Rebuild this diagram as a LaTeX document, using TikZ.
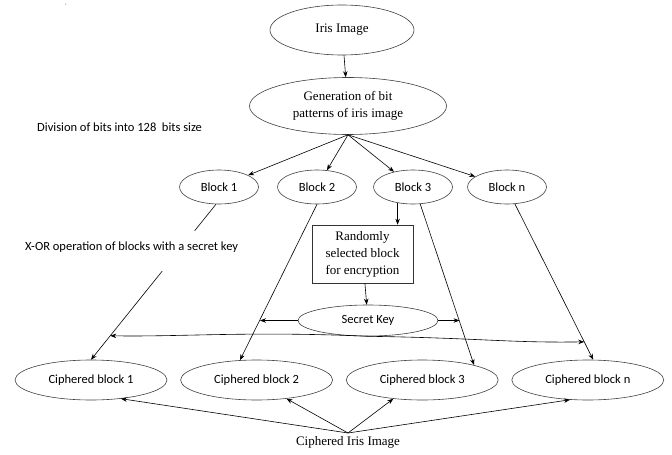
\documentclass[tikz,border=0pt]{standalone}
\usepackage{fontspec}
\setmainfont{Liberation Serif}
\newfontfamily\calibri{Carlito}
\usetikzlibrary{shapes.geometric, arrows.meta, positioning, calc}

\begin{document}
\begin{tikzpicture}[
    x=1pt, y=-1pt,
    node distance=13pt,
    oval/.style={ellipse, draw=black!75, line width=0.6pt, inner sep=0pt, align=center},
    rect/.style={rectangle, draw=black!80, line width=0.6pt, align=center, inner sep=2pt},
    serif/.style={font=\fontsize{13}{17}\selectfont},
    sans/.style={font=\calibri\fontsize{12.5}{15}\selectfont},
    arrow/.style={-{Stealth[length=6pt, width=4.5pt]}, line width=0.6pt},
    line/.style={line width=0.6pt}
]
    \useasboundingbox (0,0) rectangle (672,455);

    % Top part
    \node[font=\tiny, inner sep=0pt] (tick) at (66,6) {'};
    \node[oval, serif, minimum width=144pt, minimum height=50pt] (iris) at (342,30) {Iris Image};
    \node[oval, serif, minimum width=197pt, minimum height=57pt] (gen) at (348,106) {Generation of bit\\patterns of iris image};
    \node[sans, anchor=west, inner sep=0pt] (div) at (37,127) {Division of bits into 128\ \ bits size};

    % Blocks
    \node[oval, sans, minimum width=79pt, minimum height=34pt] (b1) at (219,187) {Block 1};
    \node[oval, sans, minimum width=79pt, minimum height=34pt] (b2) at (317,187) {Block 2};
    \node[oval, sans, minimum width=79pt, minimum height=34pt] (b3) at (413,187) {Block 3};
    \node[oval, sans, minimum width=79pt, minimum height=34pt] (bn) at (507,187) {Block n};

    \node[sans, anchor=west, inner sep=0pt] (xor) at (25,247) {X-OR operation of blocks with a secret key};
    \node[rect, serif, minimum width=101pt, minimum height=58pt] (rand) at (362.5,254) {Randomly\\selected block\\for encryption};
    \node[oval, sans, minimum width=140pt, minimum height=31pt] (sk) at (368,320.5) {Secret Key};

    % Ciphered blocks
    \node[oval, sans, minimum width=152pt, minimum height=40pt] (cb1) at (91,380) {Ciphered block 1};
    \node[oval, sans, minimum width=152pt, minimum height=40pt, right=13pt of cb1] (cb2) {Ciphered block 2};
    \node[oval, sans, minimum width=152pt, minimum height=40pt, right=13pt of cb2] (cb3) {Ciphered block 3};
    \node[oval, sans, minimum width=152pt, minimum height=40pt, right=13pt of cb3] (cbn) {Ciphered block n};
    \node[serif, anchor=north, inner sep=3.5pt] (cii) at (348,433) {Ciphered Iris Image};

    % Points on the block lines
    \coordinate (x1a) at ($(b1.260)!0.17!(cb1.north)$);
    \coordinate (x1b) at ($(b1.260)!0.43!(cb1.north)$);
    \coordinate (k1) at ($(b1.260)!0.846!(cb1.north)$);
    \coordinate (k2) at ($(b2.south)!0.74!(cb2.130)$);
    \coordinate (k3) at ($(b3.293)!0.73!(cb3.16)$);
    \coordinate (kn) at ($(bn.295)!0.885!(cbn.75)$);

    % Arrows
    \draw[arrow] (iris) -- (gen);
    \draw[arrow] (gen.south) -- (b1);
    \draw[arrow] (gen.south) -- (b2);
    \draw[arrow] (gen.south) -- (b3);
    \draw[arrow] (gen.south) -- (bn);

    \draw[line] (b1.260) -- (x1a);
    \draw[arrow] (x1b) -- (cb1.north);
    \draw[arrow] (b2.south) -- (cb2.130);
    \draw[arrow] (b3.293) -- (cb3.16);
    \draw[arrow] (bn.295) -- (cbn.75);

    \draw[arrow] (b3.226) -- (b3.226 |- rand.north);
    \draw[arrow] (rand) -- (sk);
    \draw[arrow] (sk.west) -- (sk.west -| k2);
    \draw[arrow] (sk.east) -- (sk.east -| k3);
    \draw[arrow] (sk.south) .. controls (250,331) and (180,337) .. (k1);
    \draw[arrow] (sk.south) .. controls (480,338) and (510,343) .. (kn);

    \draw[arrow] (cii.north) -- (cb1.-32);
    \draw[arrow] (cii.north) -- (cb2.-32);
    \draw[arrow] (cii.north) -- (cb3.213);
    \draw[arrow] (cii.north) -- (cbn.228);
\end{tikzpicture}
\end{document}
